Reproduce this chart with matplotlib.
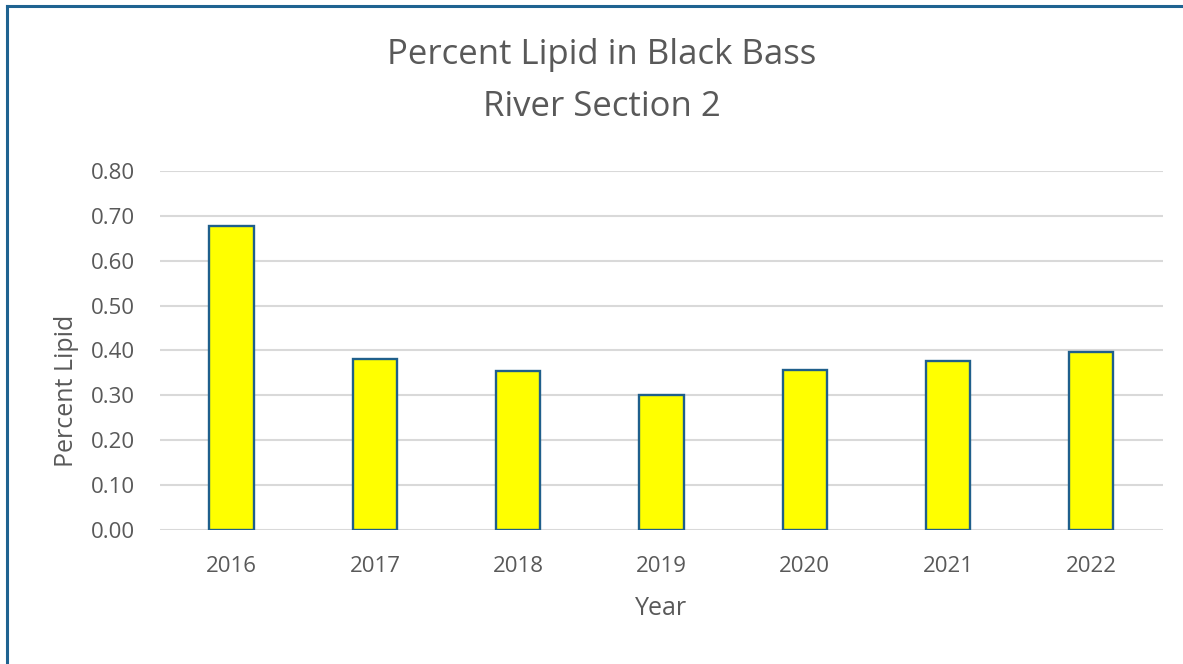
import matplotlib
matplotlib.use("Agg")
import matplotlib.pyplot as plt
from matplotlib.lines import Line2D

# Percent lipid by sampling year
years = ["2016", "2017", "2018", "2019", "2020", "2021", "2022"]
lipid = [0.677, 0.382, 0.354, 0.301, 0.357, 0.377, 0.396]
y_ticks = [0.0, 0.1, 0.2, 0.3, 0.4, 0.5, 0.6, 0.7, 0.8]

plt.rcParams["font.family"] = ["Open Sans", "DejaVu Sans"]
text_color = "#595959"

fig = plt.figure(figsize=(11.83, 6.64), dpi=100)
ax = fig.add_axes([0.1353, 0.2018, 0.8477, 0.5407])

x = range(len(years))
ax.bar(x, lipid, width=0.31, color="#FFFF00", edgecolor="#1F5F8B",
       linewidth=1.7, zorder=3)

ax.set_xlim(-0.5, len(years) - 0.5)
ax.set_ylim(0, 0.8)
ax.set_yticks(y_ticks)
ax.set_yticklabels([f"{v:.2f}" for v in y_ticks])
ax.set_xticks(list(x))
ax.set_xticklabels(years)

ax.grid(axis="y", color="#D9D9D9", linewidth=1.5, zorder=0)
for side in ["top", "right", "left", "bottom"]:
    ax.spines[side].set_visible(False)
ax.tick_params(axis="both", length=0, labelsize=16, colors=text_color)
ax.tick_params(axis="y", pad=18)
ax.tick_params(axis="x", pad=19)

fig.text(0.5085, 0.917, "Percent Lipid in Black Bass", ha="center", va="center",
         fontsize=25, color=text_color)
fig.text(0.5085, 0.839, "River Section 2", ha="center", va="center",
         fontsize=25, color=text_color)
fig.text(0.559, 0.084, "Year", ha="center", va="center",
         fontsize=18, color=text_color)
fig.text(0.056, 0.411, "Percent Lipid", ha="center", va="center",
         rotation=90, fontsize=18, color=text_color)

# frame on the left and top edges
border = "#1F6391"
fig.add_artist(Line2D([7 / 1183, 7 / 1183], [0, 1 - 6 / 664], color=border,
                      linewidth=2.2, transform=fig.transFigure))
fig.add_artist(Line2D([7 / 1183, 1], [1 - 6 / 664, 1 - 6 / 664], color=border,
                      linewidth=2.2, transform=fig.transFigure))

fig.savefig("out.png", dpi=100)
